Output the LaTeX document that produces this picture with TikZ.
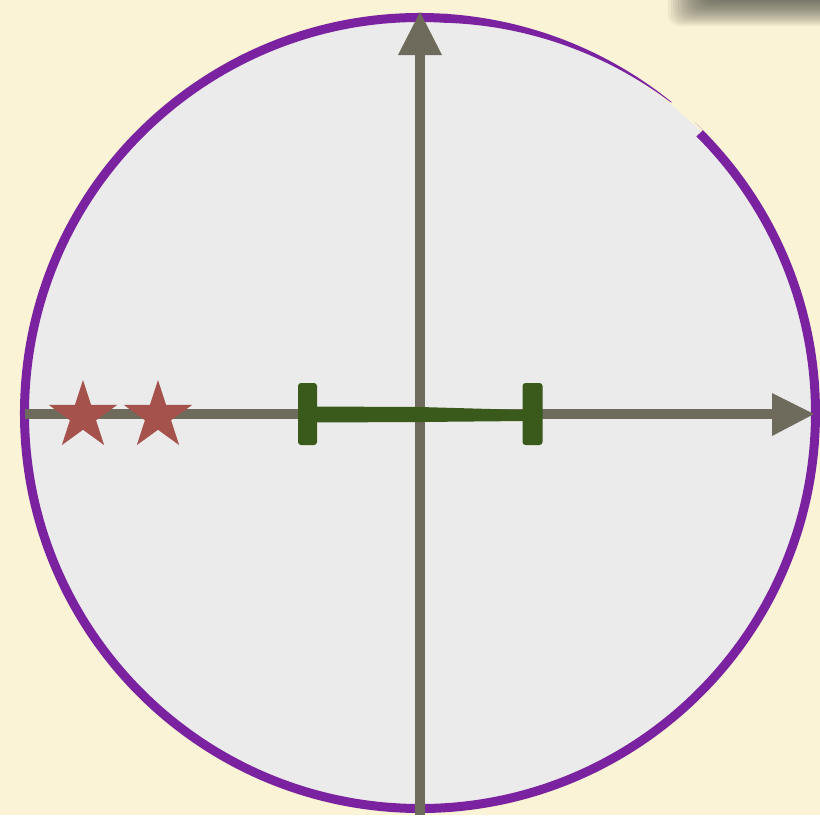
\documentclass[tikz,border=0pt]{standalone}
\usetikzlibrary{shapes.geometric}
\definecolor{paper}{HTML}{FBF3D6}
\definecolor{disc}{HTML}{EBEBEB}
\definecolor{rim}{HTML}{7B22A0}
\definecolor{axis}{HTML}{6E6A5C}
\definecolor{leaf}{HTML}{3A5A1C}
\definecolor{starc}{HTML}{A5524C}
\tikzset{
  axisline/.style={draw=axis, line width=10pt},
  axishead/.style={fill=axis},
  capbox/.style={fill=leaf, rounded corners=3pt},
  starmark/.style={star, star points=5, star point ratio=2.618, minimum size=72pt, inner sep=0pt, fill=starc},
}
\begin{document}
\begin{tikzpicture}[x=1pt,y=-1pt]
\useasboundingbox (0,0) rectangle (820,815);
\fill[paper] (0,0) rectangle (820,815);
% shadow top right
\foreach \i in {0,...,15}{
  \fill[black!80!paper, opacity=0.06, rounded corners=12pt] (668+\i*2.5,-30) rectangle (850,26-\i*1.7);
}
\coordinate (O) at (420,413);
% disc (y axis points down, so visual angle a is TikZ angle -a)
\fill[disc] (O) circle[radius=397.5];
\draw[rim, line width=9pt] (O) ++(-86:395.5) arc[start angle=-86, end angle=-405, radius=395.5];
% tapering brush end of the rim
\fill[rim, shift={(420,413)}] plot[domain=51:86.5, samples=50] ({-\x}:{400})
   -- plot[domain=86.5:51, samples=50] ({-\x}:{391+8.3*(86.5-\x)/35.5}) -- cycle;
\fill[rim] (O) ++(-44:400) arc[start angle=-44, end angle=-46.5, radius=400] -- ++(0,0) arc[start angle=-46.5, end angle=-44, radius=391] -- cycle;
% axes
\coordinate (xl) at (25,414);
\coordinate (xr) at (775,414);
\coordinate (xt) at (814,414);
\coordinate (yb) at (420,815);
\coordinate (yt) at (420,52);
\coordinate (ytip) at (420,12);
\draw[axisline] (xl) -- (xr);
\draw[axisline] (yb) -- (yt);
\fill[axishead] (ytip) -- (398,55) -- (442,55) -- cycle;
\fill[axishead] (xt) -- (772,393) -- (772,436) -- cycle;
% interval
\coordinate (cl) at (307.5,414);
\coordinate (cr) at (532.5,414);
\fill[leaf] (312,406.5) -- (420,407) -- (526,410) -- (526,421) -- (420,422) -- (312,422.5) -- cycle;
\node[capbox, minimum width=19pt, minimum height=62pt, inner sep=0pt] (capl) at (cl) {};
\node[capbox, minimum width=20pt, minimum height=62pt, inner sep=0pt] (capr) at (cr) {};
% stars
\node[starmark] (s1) at (83,416) {};
\node[starmark] (s2) at (158,416) {};
\end{tikzpicture}
\end{document}
